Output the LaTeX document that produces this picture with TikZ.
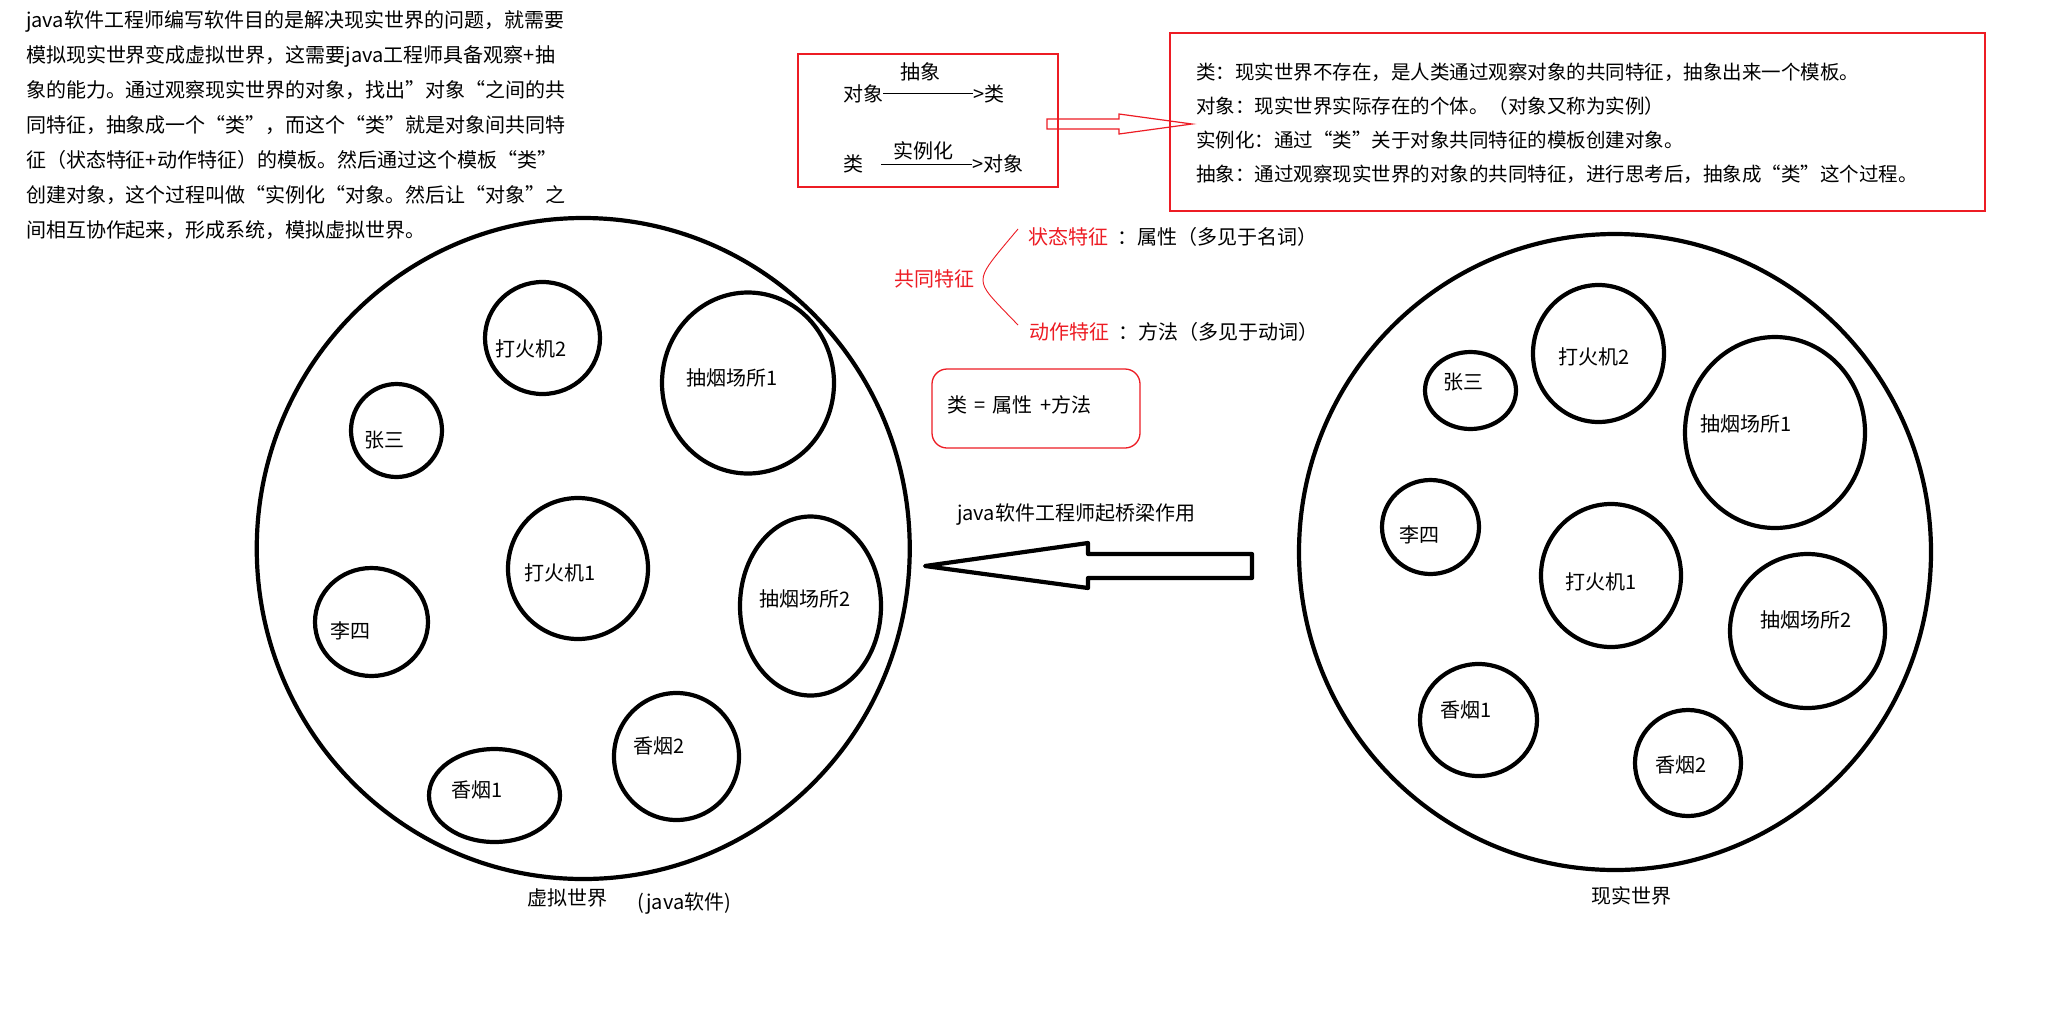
\documentclass[tikz,border=0pt]{standalone}
\usepackage{fontspec}
\setmainfont{Noto Sans CJK SC}
\usetikzlibrary{shapes.geometric}
\definecolor{penred}{RGB}{237,28,36}
\begin{document}
\begin{tikzpicture}[x=1pt,y=-1pt,
  every node/.style={inner sep=0pt, outer sep=0pt},
  txt/.style={font=\fontsize{20}{24}\selectfont, text height=17.6pt, text depth=2.4pt},
  para/.style={txt, anchor=west},
  note/.style={font=\fontsize{19.5}{24}\selectfont, text height=17.2pt, text depth=2.3pt, anchor=west},
  redtxt/.style={txt, text=penred, anchor=west},
  ring/.style={draw, ellipse, line width=4.2pt},
  redframe/.style={draw=penred, line width=1.3pt},
]
\fill[white] (0,0) rectangle (2046,1021);
\useasboundingbox (0,0) rectangle (2046,1021);

% introductory paragraph
\node[para] (p1) at (26,20)  {java软件工程师编写软件目的是解决现实世界的问题，就需要};
\node[para] (p2) at (26,55)  {模拟现实世界变成虚拟世界，这需要java工程师具备观察+抽};
\node[para] (p3) at (26,90)  {象的能力。通过观察现实世界的对象，找出”对象“之间的共};
\node[para] (p4) at (26,125) {同特征，抽象成一个“类”，而这个“类”就是对象间共同特};
\node[para] (p5) at (26,160) {征（状态特征+动作特征）的模板。然后通过这个模板“类”};
\node[para] (p6) at (26,195) {创建对象，这个过程叫做“实例化“对象。然后让“对象”之};
\node[para] (p7) at (26,230) {间相互协作起来，形成系统，模拟虚拟世界。};

% abstraction / instantiation box
\node[redframe, minimum width=260pt, minimum height=133pt] (defbox) at (928,120.5) {};
\node[txt] (absword) at (920,72) {抽象};
\node[txt] (obj1) at (863,93.5) {对象};
\node[txt, anchor=west] (cls1) at (973,93.5) {>类};
\draw[line width=1pt] (obj1.east) -- (cls1.west);
\node[txt] (cls2) at (853,164) {类};
\node[txt] (instword) at (923,151) {实例化};
\node[txt, anchor=west] (obj2) at (972,164) {>对象};
\draw[line width=1pt] ([xshift=18pt]cls2.east) -- (obj2.west);

% hollow red arrow towards the definitions
\draw[penred, line width=1.2pt, line join=miter]
  (1047,119) -- (1119,119) -- (1119,114) -- (1192,124) -- (1119,134) -- (1119,129) -- (1047,129) -- cycle;

% definitions
\node[redframe, minimum width=815pt, minimum height=178pt] (notes) at (1577.5,122) {};
\node[note] (n1) at (1196,72)  {类：现实世界不存在，是人类通过观察对象的共同特征，抽象出来一个模板。};
\node[note] (n2) at (1196,106) {对象：现实世界实际存在的个体。（对象又称为实例）};
\node[note] (n3) at (1196,140) {实例化：通过“类”关于对象共同特征的模板创建对象。};
\node[note] (n4) at (1196,174) {抽象：通过观察现实世界的对象的共同特征，进行思考后，抽象成“类”这个过程。};

% common features
\node[redtxt] (common) at (894,279) {共同特征};
\node[redtxt] (state) at (1028,237) {状态特征};
\node[txt, anchor=west] (attr) at (1117,237) {：属性（多见于名词）};
\node[redtxt] (action) at (1029,332) {动作特征};
\node[txt, anchor=west] (meth) at (1118,332) {：方法（多见于动词）};
\coordinate (braceTop) at (1018,229);
\coordinate (braceMid) at (983,280);
\coordinate (braceBot) at (1018,325);
\draw[penred, line width=0.9pt] (braceTop) .. controls (992,260) and (983,270) .. (braceMid)
  .. controls (983,290) and (992,298) .. (braceBot);

% class formula
\node[draw=penred, line width=1.3pt, rounded corners=15pt, minimum width=208pt, minimum height=79pt] (formula) at (1036,408.5) {};
\node[txt, anchor=west] (formulatxt) at (947,405) {类\hspace{7pt}=\hspace{7pt}属性\hspace{8pt}+方法};

% bridge arrow
\node[txt, anchor=west] (bridge) at (957,513) {java软件工程师起桥梁作用};
\draw[line width=4.2pt, line join=round]
  (925,566) -- (1088,543) -- (1088,554) -- (1252,554) -- (1252,578) -- (1088,578) -- (1088,588) -- cycle;

% virtual world
\node[ring, minimum width=653pt, minimum height=661pt] (vworld) at (583.25,548.5) {};
\node[ring, minimum width=115pt, minimum height=112pt] (vl2) at (542.5,338) {};
\node[ring, minimum width=172pt, minimum height=181pt] (vs1) at (748,383) {};
\node[ring, minimum width=91pt, minimum height=93pt] (vzs) at (396.5,430.5) {};
\node[ring, minimum width=140pt, minimum height=141pt] (vl1) at (578,568.5) {};
\node[ring, minimum width=141pt, minimum height=179pt] (vs2) at (810.5,606) {};
\node[ring, minimum width=113pt, minimum height=108pt] (vls) at (371.5,622) {};
\node[ring, minimum width=125pt, minimum height=127pt] (vc2) at (676.5,756.5) {};
\node[ring, minimum width=131pt, minimum height=93pt] (vc1) at (494.5,795.5) {};
\node[txt] (vl2t) at (531.5,349) {打火机2};
\node[txt] (vs1t) at (732,378) {抽烟场所1};
\node[txt] (vzst) at (384.5,440) {张三};
\node[txt] (vl1t) at (560,573) {打火机1};
\node[txt] (vs2t) at (805.5,598.5) {抽烟场所2};
\node[txt] (vlst) at (350,631) {李四};
\node[txt] (vc2t) at (659.5,746) {香烟2};
\node[txt] (vc1t) at (477.5,790) {香烟1};
\node[txt] (vname) at (567.5,898) {虚拟世界};
\node[txt] (vnote) at (684.5,902) {(java软件)};

% real world
\node[ring, minimum width=632pt, minimum height=636pt] (rworld) at (1615,552) {};
\node[ring, minimum width=91pt, minimum height=77pt] (rzs) at (1470.5,390.5) {};
\node[ring, minimum width=131pt, minimum height=137pt] (rl2) at (1598.5,353.5) {};
\node[ring, minimum width=180pt, minimum height=191pt] (rs1) at (1775,432.5) {};
\node[ring, minimum width=97pt, minimum height=94pt] (rls) at (1430.5,527) {};
\node[ring, minimum width=140pt, minimum height=143pt] (rl1) at (1611,575.5) {};
\node[ring, minimum width=155pt, minimum height=154pt] (rs2) at (1807.5,631) {};
\node[ring, minimum width=117pt, minimum height=112pt] (rc1) at (1478.5,720) {};
\node[ring, minimum width=106pt, minimum height=106pt] (rc2) at (1688,763) {};
\node[txt] (rzst) at (1463,381.6) {张三};
\node[txt] (rl2t) at (1594,357) {打火机2};
\node[txt] (rs1t) at (1746,424) {抽烟场所1};
\node[txt] (rlst) at (1419,534.5) {李四};
\node[txt] (rl1t) at (1601.5,582) {打火机1};
\node[txt] (rs2t) at (1806,619.5) {抽烟场所2};
\node[txt] (rc1t) at (1466.5,710) {香烟1};
\node[txt] (rc2t) at (1681.5,765) {香烟2};
\node[txt] (rname) at (1631.5,896) {现实世界};
\end{tikzpicture}
\end{document}
